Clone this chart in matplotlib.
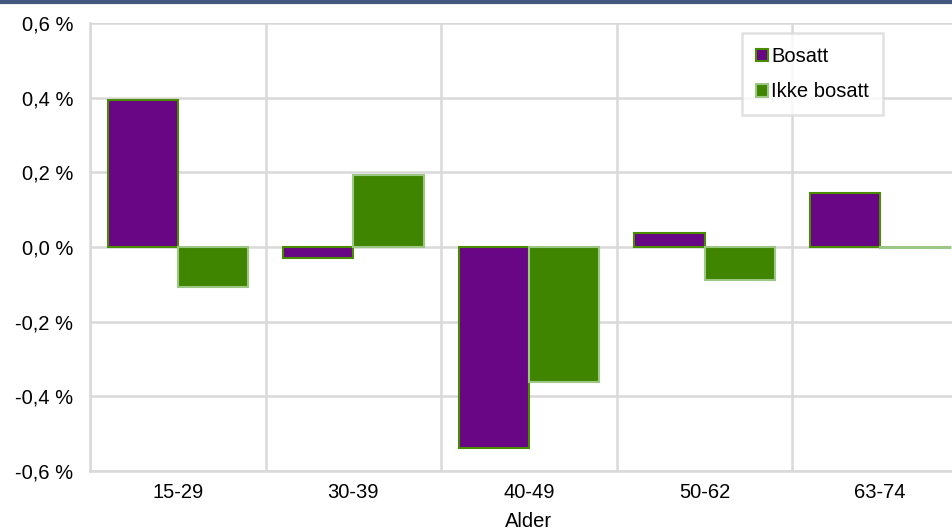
import matplotlib.pyplot as plt
import numpy as np
from matplotlib.lines import Line2D

plt.rcParams['font.family'] = ['Liberation Sans', 'DejaVu Sans']

groups = ['15-29', '30-39', '40-49', '50-62', '63-74']
bosatt = [0.394, -0.03, -0.538, 0.038, 0.145]
ikke_bosatt = [-0.107, 0.193, -0.362, -0.089, -0.003]
yticks = [-0.6, -0.4, -0.2, 0.0, 0.2, 0.4, 0.6]
ylabels = ['-0,6 %', '-0,4 %', '-0,2 %', '0,0 %', '0,2 %', '0,4 %', '0,6 %']

fig = plt.figure(figsize=(9.52, 5.30), dpi=100)
ax = fig.add_axes([90 / 952, 59 / 530, 878 / 952, 448 / 530])

fs = 14.5
x = np.arange(len(groups))
w = 0.4
ax.bar(x - w / 2, bosatt, w, color='#680685', edgecolor='#4a8c00', linewidth=1.5,
       label='Bosatt', zorder=3)
ax.bar(x + w / 2, ikke_bosatt, w, color='#408500', edgecolor='#9cc784', linewidth=1.5,
       label='Ikke bosatt', zorder=3)

ax.set_xlim(-0.5, len(groups) - 0.5)
ax.set_ylim(-0.6, 0.6)
ax.set_yticks(yticks)
ax.set_yticklabels(ylabels, fontsize=fs)
ax.set_xticks(x)
ax.set_xticklabels(groups, fontsize=fs)
ax.set_xticks(np.arange(len(groups) + 1) - 0.5, minor=True)
ax.tick_params(which='both', length=0)
ax.tick_params(axis='x', pad=9)
ax.tick_params(axis='y', pad=12)
ax.grid(True, which='minor', axis='x', color='#d9d9d9', linewidth=1.8, zorder=0)
ax.grid(True, which='major', axis='y', color='#d9d9d9', linewidth=1.8, zorder=0)
for s in ['top', 'right']:
    ax.spines[s].set_visible(False)
for s in ['left', 'bottom']:
    ax.spines[s].set_color('#d9d9d9')
    ax.spines[s].set_linewidth(1.8)
ax.set_xlabel('Alder', fontsize=fs, labelpad=7)

leg = ax.legend(loc='upper left', bbox_to_anchor=(742 / 952, 1 - 33 / 530),
                bbox_transform=fig.transFigure,
                fontsize=fs, frameon=True, fancybox=False, edgecolor='#d9d9d9',
                handlelength=0.6, handleheight=0.6, handletextpad=0.15,
                labelspacing=0.8, borderpad=0.7, borderaxespad=0)
leg.get_frame().set_linewidth(1.8)

fig.add_artist(Line2D([0, 1], [0.997, 0.997], color='#44587f', linewidth=3,
                      transform=fig.transFigure))

fig.savefig('out.png', dpi=100)
